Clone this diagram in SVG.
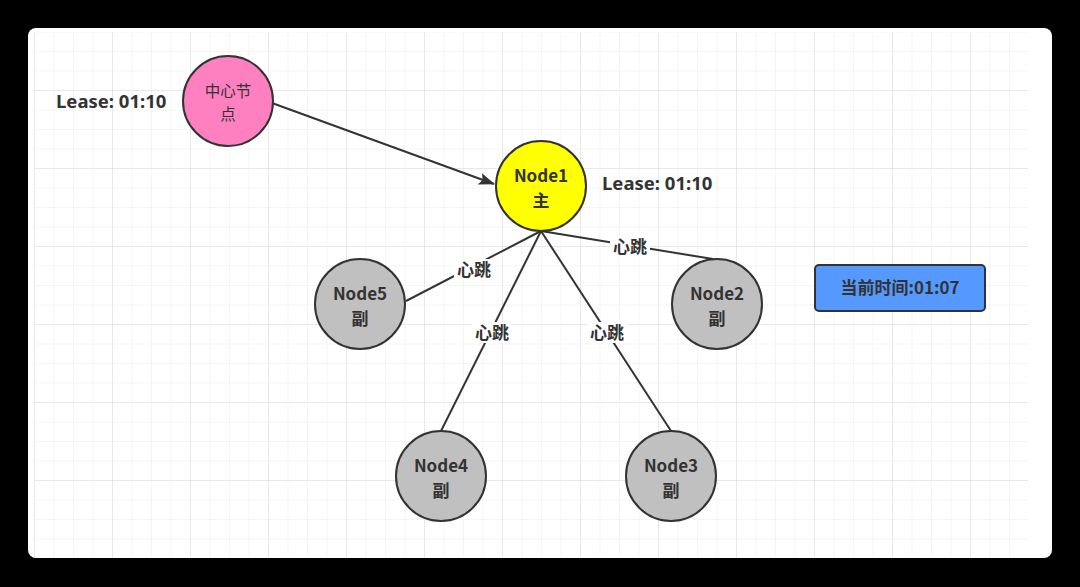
<svg xmlns="http://www.w3.org/2000/svg" width="1080" height="587" viewBox="0 0 1080 587">
  <defs>
    <pattern id="minor" x="34" y="12" width="19.5" height="19.5" patternUnits="userSpaceOnUse">
      <path d="M 0 0 L 0 19.5 M 0 0 L 19.5 0" fill="none" stroke="#ececec" stroke-width="1"/>
    </pattern>
    <pattern id="major" x="34" y="12" width="78" height="78" patternUnits="userSpaceOnUse">
      <path d="M 0 0 L 0 78 M 0 0 L 78 0" fill="none" stroke="#dcdcdc" stroke-width="1"/>
    </pattern>
    <marker id="arrow" viewBox="0 0 16 12" refX="15" refY="6" markerWidth="16" markerHeight="12" markerUnits="userSpaceOnUse" orient="auto">
      <path d="M 0 0 L 16 6 L 0 12 L 3 6 Z" fill="#333333"/>
    </marker>
    <style>
      .node { stroke: #333333; stroke-width: 2; }
      .t { font-family: "Noto Sans CJK SC", "Noto Sans", sans-serif; fill: #333333; text-anchor: middle; }
      .b { font-weight: bold; font-size: 17px; }
      .lbl { font-family: "Noto Sans CJK SC", "Noto Sans", sans-serif; fill: #333333; font-weight: bold; font-size: 17px; text-anchor: middle; }
      .lease { font-family: "Noto Sans", "Noto Sans CJK SC", sans-serif; fill: #333333; font-weight: bold; font-size: 18.5px; }
      .edge { stroke: #333333; stroke-width: 2; fill: none; }
    </style>
  </defs>
  <rect width="1080" height="587" fill="#000000"/>
  <rect x="28" y="28" width="1024" height="530" rx="8" fill="#ffffff"/>
  <rect x="34" y="32" width="994" height="526" fill="url(#minor)"/>
  <rect x="34" y="32" width="994" height="526" fill="url(#major)"/>

  <g id="connectors">
    <line class="edge" x1="272" y1="103" x2="494" y2="184" marker-end="url(#arrow)"/>
    <line class="edge" x1="541" y1="231" x2="406" y2="301"/>
    <line class="edge" x1="541" y1="231" x2="713" y2="259"/>
    <line class="edge" x1="541" y1="231" x2="441" y2="431"/>
    <line class="edge" x1="541" y1="231" x2="671" y2="431"/>
    <g>
      <rect x="454" y="259" width="40" height="21" fill="#ffffff"/>
      <text class="lbl" x="474" y="276">心跳</text>
      <rect x="610" y="236" width="40" height="21" fill="#ffffff"/>
      <text class="lbl" x="630" y="253">心跳</text>
      <rect x="472" y="322" width="40" height="21" fill="#ffffff"/>
      <text class="lbl" x="492" y="339">心跳</text>
      <rect x="587" y="322" width="40" height="21" fill="#ffffff"/>
      <text class="lbl" x="607" y="339">心跳</text>
    </g>
  </g>

  <g id="lease-center">
    <text class="lease" x="56" y="108">Lease: 01:10</text>
  </g>
  <g id="lease-node1">
    <text class="lease" x="602" y="190">Lease: 01:10</text>
  </g>

  <g id="center-node">
    <circle class="node" cx="228" cy="101" r="45" fill="#ff80c0"/>
    <text class="t" x="228" y="97" font-size="15.5">中心节<tspan x="228" dy="23">点</tspan></text>
  </g>
  <g id="node1">
    <circle class="node" cx="541" cy="186" r="45" fill="#ffff00"/>
    <text class="t b" x="541" y="182">Node1<tspan x="541" dy="25">主</tspan></text>
  </g>
  <g id="node5">
    <circle class="node" cx="360" cy="304" r="45" fill="#c0c0c0"/>
    <text class="t b" x="360" y="300">Node5<tspan x="360" dy="25">副</tspan></text>
  </g>
  <g id="node2">
    <circle class="node" cx="717" cy="304" r="45" fill="#c0c0c0"/>
    <text class="t b" x="717" y="300">Node2<tspan x="717" dy="25">副</tspan></text>
  </g>
  <g id="node4">
    <circle class="node" cx="441" cy="476" r="45" fill="#c0c0c0"/>
    <text class="t b" x="441" y="472">Node4<tspan x="441" dy="25">副</tspan></text>
  </g>
  <g id="node3">
    <circle class="node" cx="671" cy="476" r="45" fill="#c0c0c0"/>
    <text class="t b" x="671" y="472">Node3<tspan x="671" dy="25">副</tspan></text>
  </g>
  <g id="current-time">
    <rect class="node" x="815" y="265" width="170" height="46" rx="4" fill="#5599ff"/>
    <text class="t b" x="900" y="294" font-size="18">当前时间:01:07</text>
  </g>
</svg>
